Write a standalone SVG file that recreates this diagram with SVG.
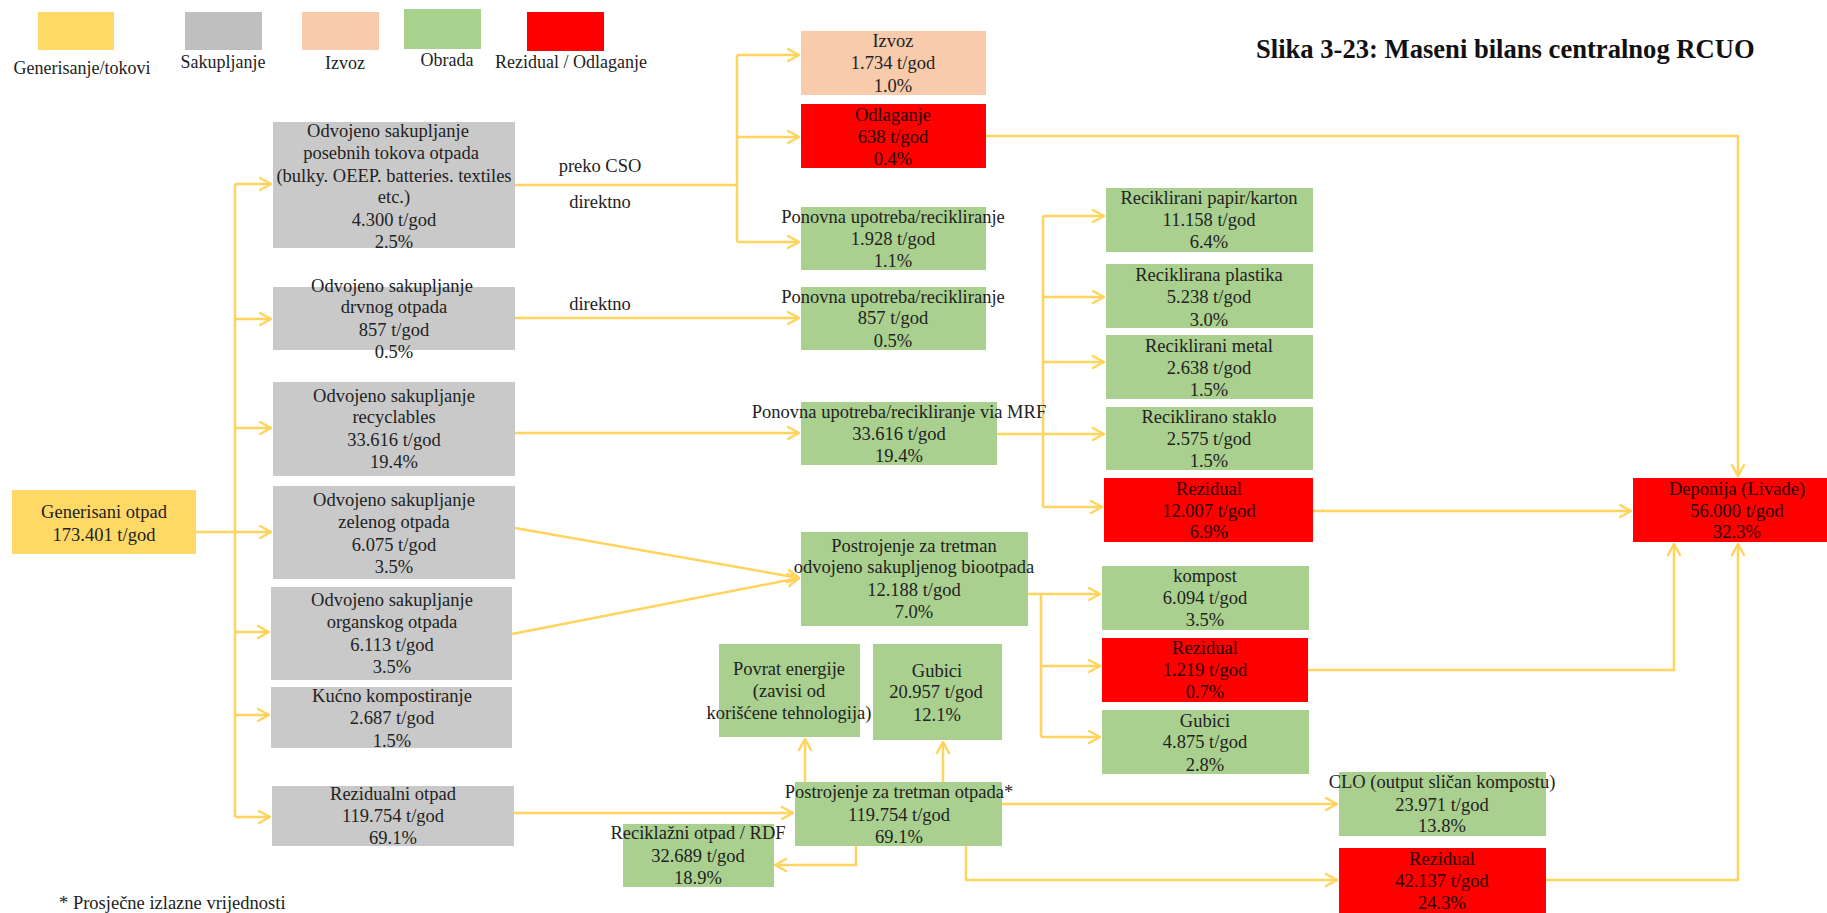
<svg xmlns="http://www.w3.org/2000/svg" width="1827" height="913" viewBox="0 0 1827 913">
  <style>
    .t { font-family: "Liberation Serif", "Times New Roman", serif; font-size: 18.5px; fill: #222; text-anchor: middle; }
    .tr { font-family: "Liberation Serif", "Times New Roman", serif; font-size: 18.5px; fill: #2a0000; text-anchor: middle; }
    .lg { font-family: "Liberation Serif", "Times New Roman", serif; font-size: 18px; fill: #222; text-anchor: middle; }
    .title { font-family: "Liberation Serif", "Times New Roman", serif; font-size: 26.6px; font-weight: bold; fill: #111; }
    .c { fill: none; stroke: #FFD45E; stroke-width: 2.5; }
    .a { marker-end: url(#arr); }
    .gen { fill: #FFD966; }
    .col { fill: #C9C9C9; }
    .exp { fill: #F8CBAD; }
    .trt { fill: #A9D08E; }
    .res { fill: #FF0000; }
  </style>
  <defs>
    <marker id="arr" viewBox="-13 -8 15 16" refX="0" refY="0" markerWidth="15" markerHeight="16" markerUnits="userSpaceOnUse" orient="auto">
      <path d="M-11,-6 L0,0 L-11,6" fill="none" stroke="#FFD45E" stroke-width="2.5" stroke-linejoin="round" stroke-linecap="round"/>
    </marker>
  </defs>
  <rect width="1827" height="913" fill="#FFFFFF"/>

  <!-- legend -->
  <g id="legend">
    <rect class="gen" x="38" y="12" width="76" height="38"/>
    <rect fill="#BFBFBF" x="185" y="12" width="77" height="38"/>
    <rect class="exp" x="302" y="12" width="77" height="38"/>
    <rect fill="#A9D18E" x="404" y="9" width="77" height="40"/>
    <rect class="res" x="527" y="12" width="77" height="39"/>
    <text class="lg" x="82" y="74">Generisanje/tokovi</text>
    <text class="lg" x="223" y="68">Sakupljanje</text>
    <text class="lg" x="345" y="69">Izvoz</text>
    <text class="lg" x="447" y="66">Obrada</text>
    <text class="lg" x="571" y="68">Rezidual  / Odlaganje</text>
  </g>

  <text class="title" x="1256" y="58">Slika 3-23: Maseni bilans centralnog RCUO</text>

  <!-- connectors -->
  <g id="connectors">
    <path class="c a" d="M196,532 H271"/>
    <path class="c" d="M235,184 V817"/>
    <path class="c a" d="M235,184 H271"/>
    <path class="c a" d="M235,319 H271"/>
    <path class="c a" d="M235,428 H271"/>
    <path class="c a" d="M235,632 H269"/>
    <path class="c a" d="M235,715 H269"/>
    <path class="c a" d="M235,817 H270"/>

    <path class="c" d="M515,185 H737"/>
    <path class="c" d="M737,55 V242"/>
    <path class="c a" d="M737,55 H799"/>
    <path class="c a" d="M737,137 H799"/>
    <path class="c a" d="M737,242 H799"/>
    <path class="c a" d="M515,318 H799"/>
    <path class="c a" d="M515,433 H799"/>
    <path class="c a" d="M515,528 L799,578"/>
    <path class="c a" d="M512,634 L799,578"/>

    <path class="c" d="M997,434 H1043"/>
    <path class="c" d="M1043,216 V507"/>
    <path class="c a" d="M1043,216 H1104"/>
    <path class="c a" d="M1043,297 H1104"/>
    <path class="c a" d="M1043,362 H1104"/>
    <path class="c a" d="M1043,434 H1104"/>
    <path class="c a" d="M1043,507 H1102"/>

    <path class="c" d="M1028,594 H1041 V737"/>
    <path class="c a" d="M1041,594 H1100"/>
    <path class="c a" d="M1041,666 H1100"/>
    <path class="c a" d="M1041,737 H1100"/>

    <path class="c a" d="M986,136 H1738 V476"/>
    <path class="c a" d="M1313,511 H1631"/>
    <path class="c a" d="M1308,670 H1674 V544"/>
    <path class="c a" d="M1546,880 H1738 V544"/>

    <path class="c a" d="M514,813 H793"/>
    <path class="c a" d="M805,782 V739"/>
    <path class="c a" d="M943,782 V742"/>
    <path class="c a" d="M856,846 V865 H775"/>
    <path class="c a" d="M1002,804 H1337"/>
    <path class="c a" d="M966,846 V880 H1337"/>
  </g>

  <g id="edge-labels">
    <text class="t" x="600" y="172">preko CSO</text>
    <text class="t" x="600" y="208">direktno</text>
    <text class="t" x="600" y="310">direktno</text>
  </g>

  <!-- source -->
  <g id="generisani">
    <rect class="gen" x="12" y="490" width="184" height="64"/>
    <text class="t" x="104" y="518">Generisani otpad</text>
    <text class="t" x="104" y="541">173.401 t/god</text>
  </g>

  <!-- collection -->
  <g id="posebni-tokovi">
    <rect class="col" x="273" y="122" width="242" height="126"/>
    <text class="t" x="388" y="137">Odvojeno sakupljanje</text>
    <text class="t" x="391" y="159">posebnih tokova otpada</text>
    <text class="t" x="394" y="182">(bulky. OEEP. batteries. textiles</text>
    <text class="t" x="394" y="203">etc.)</text>
    <text class="t" x="394" y="226">4.300 t/god</text>
    <text class="t" x="394" y="248">2.5%</text>
  </g>
  <g id="drvni">
    <rect class="col" x="273" y="287" width="242" height="63"/>
    <text class="t" x="392" y="292">Odvojeno sakupljanje</text>
    <text class="t" x="394" y="313">drvnog otpada</text>
    <text class="t" x="394" y="336">857 t/god</text>
    <text class="t" x="394" y="358">0.5%</text>
  </g>
  <g id="recyclables">
    <rect class="col" x="273" y="382" width="242" height="94"/>
    <text class="t" x="394" y="402">Odvojeno sakupljanje</text>
    <text class="t" x="394" y="423">recyclables</text>
    <text class="t" x="394" y="446">33.616 t/god</text>
    <text class="t" x="394" y="468">19.4%</text>
  </g>
  <g id="zeleni">
    <rect class="col" x="273" y="486" width="242" height="93"/>
    <text class="t" x="394" y="506">Odvojeno sakupljanje</text>
    <text class="t" x="394" y="528">zelenog otpada</text>
    <text class="t" x="394" y="551">6.075 t/god</text>
    <text class="t" x="394" y="573">3.5%</text>
  </g>
  <g id="organski">
    <rect class="col" x="271" y="587" width="241" height="93"/>
    <text class="t" x="392" y="606">Odvojeno sakupljanje</text>
    <text class="t" x="392" y="628">organskog otpada</text>
    <text class="t" x="392" y="651">6.113 t/god</text>
    <text class="t" x="392" y="673">3.5%</text>
  </g>
  <g id="kucno">
    <rect class="col" x="271" y="687" width="241" height="61"/>
    <text class="t" x="392" y="702">Kućno kompostiranje</text>
    <text class="t" x="392" y="724">2.687 t/god</text>
    <text class="t" x="392" y="747">1.5%</text>
  </g>
  <g id="rezidualni">
    <rect class="col" x="272" y="786" width="242" height="60"/>
    <text class="t" x="393" y="800">Rezidualni otpad</text>
    <text class="t" x="393" y="822">119.754 t/god</text>
    <text class="t" x="393" y="844">69.1%</text>
  </g>

  <!-- middle column -->
  <g id="izvoz">
    <rect class="exp" x="801" y="31" width="185" height="64"/>
    <text class="t" x="893" y="47">Izvoz</text>
    <text class="t" x="893" y="69">1.734 t/god</text>
    <text class="t" x="893" y="92">1.0%</text>
  </g>
  <g id="odlaganje">
    <rect class="res" x="801" y="104" width="185" height="64"/>
    <text class="tr" x="893" y="121">Odlaganje</text>
    <text class="tr" x="893" y="143">638 t/god</text>
    <text class="tr" x="893" y="165">0.4%</text>
  </g>
  <g id="ponovna-1">
    <rect class="trt" x="801" y="207" width="185" height="63"/>
    <text class="t" x="893" y="223">Ponovna upotreba/recikliranje</text>
    <text class="t" x="893" y="245">1.928 t/god</text>
    <text class="t" x="893" y="267">1.1%</text>
  </g>
  <g id="ponovna-2">
    <rect class="trt" x="801" y="287" width="185" height="63"/>
    <text class="t" x="893" y="303">Ponovna upotreba/recikliranje</text>
    <text class="t" x="893" y="324">857 t/god</text>
    <text class="t" x="893" y="347">0.5%</text>
  </g>
  <g id="mrf">
    <rect class="trt" x="801" y="402" width="196" height="63"/>
    <text class="t" x="899" y="418">Ponovna upotreba/recikliranje via MRF</text>
    <text class="t" x="899" y="440">33.616 t/god</text>
    <text class="t" x="899" y="462">19.4%</text>
  </g>
  <g id="biootpad">
    <rect class="trt" x="801" y="532" width="227" height="94"/>
    <text class="t" x="914" y="552">Postrojenje za tretman</text>
    <text class="t" x="914" y="573">odvojeno sakupljenog biootpada</text>
    <text class="t" x="914" y="596">12.188 t/god</text>
    <text class="t" x="914" y="618">7.0%</text>
  </g>
  <g id="povrat-energije">
    <rect class="trt" x="719" y="644" width="141" height="93"/>
    <text class="t" x="789" y="675">Povrat energije</text>
    <text class="t" x="789" y="697">(zavisi od</text>
    <text class="t" x="789" y="719">korišćene tehnologija)</text>
  </g>
  <g id="gubici-1">
    <rect class="trt" x="873" y="644" width="129" height="96"/>
    <text class="t" x="937" y="677">Gubici</text>
    <text class="t" x="936" y="698">20.957 t/god</text>
    <text class="t" x="937" y="721">12.1%</text>
  </g>
  <g id="postrojenje">
    <rect class="trt" x="795" y="782" width="207" height="64"/>
    <text class="t" x="899" y="798">Postrojenje za tretman otpada*</text>
    <text class="t" x="899" y="821">119.754 t/god</text>
    <text class="t" x="899" y="843">69.1%</text>
  </g>
  <g id="reciklazni">
    <rect class="trt" x="623" y="824" width="151" height="63"/>
    <text class="t" x="698" y="839">Reciklažni otpad / RDF</text>
    <text class="t" x="698" y="862">32.689 t/god</text>
    <text class="t" x="698" y="884">18.9%</text>
  </g>

  <!-- right column -->
  <g id="papir">
    <rect class="trt" x="1106" y="188" width="207" height="64"/>
    <text class="t" x="1209" y="204">Reciklirani papir/karton</text>
    <text class="t" x="1209" y="226">11.158 t/god</text>
    <text class="t" x="1209" y="248">6.4%</text>
  </g>
  <g id="plastika">
    <rect class="trt" x="1106" y="264" width="207" height="64"/>
    <text class="t" x="1209" y="281">Reciklirana plastika</text>
    <text class="t" x="1209" y="303">5.238 t/god</text>
    <text class="t" x="1209" y="326">3.0%</text>
  </g>
  <g id="metal">
    <rect class="trt" x="1106" y="335" width="207" height="64"/>
    <text class="t" x="1209" y="352">Reciklirani metal</text>
    <text class="t" x="1209" y="374">2.638 t/god</text>
    <text class="t" x="1209" y="396">1.5%</text>
  </g>
  <g id="staklo">
    <rect class="trt" x="1106" y="407" width="207" height="63"/>
    <text class="t" x="1209" y="423">Reciklirano staklo</text>
    <text class="t" x="1209" y="445">2.575 t/god</text>
    <text class="t" x="1209" y="467">1.5%</text>
  </g>
  <g id="rezidual-mrf">
    <rect class="res" x="1104" y="478" width="209" height="64"/>
    <text class="tr" x="1209" y="495">Rezidual</text>
    <text class="tr" x="1209" y="517">12.007 t/god</text>
    <text class="tr" x="1209" y="538">6.9%</text>
  </g>
  <g id="kompost">
    <rect class="trt" x="1102" y="566" width="207" height="64"/>
    <text class="t" x="1205" y="582">kompost</text>
    <text class="t" x="1205" y="604">6.094 t/god</text>
    <text class="t" x="1205" y="626">3.5%</text>
  </g>
  <g id="rezidual-bio">
    <rect class="res" x="1102" y="638" width="206" height="64"/>
    <text class="tr" x="1205" y="654">Rezidual</text>
    <text class="tr" x="1205" y="676">1.219 t/god</text>
    <text class="tr" x="1205" y="698">0.7%</text>
  </g>
  <g id="gubici-2">
    <rect class="trt" x="1102" y="710" width="207" height="64"/>
    <text class="t" x="1205" y="727">Gubici</text>
    <text class="t" x="1205" y="748">4.875 t/god</text>
    <text class="t" x="1205" y="771">2.8%</text>
  </g>
  <g id="clo">
    <rect class="trt" x="1339" y="772" width="207" height="64"/>
    <text class="t" x="1442" y="788">CLO (output sličan kompostu)</text>
    <text class="t" x="1442" y="811">23.971 t/god</text>
    <text class="t" x="1442" y="832">13.8%</text>
  </g>
  <g id="rezidual-mbt">
    <rect class="res" x="1339" y="848" width="207" height="70"/>
    <text class="tr" x="1442" y="865">Rezidual</text>
    <text class="tr" x="1442" y="887">42.137 t/god</text>
    <text class="tr" x="1442" y="909">24.3%</text>
  </g>
  <g id="deponija">
    <rect class="res" x="1633" y="478" width="194" height="64"/>
    <text class="tr" x="1737" y="495">Deponija (Livade)</text>
    <text class="tr" x="1737" y="517">56.000 t/god</text>
    <text class="tr" x="1737" y="538">32.3%</text>
  </g>

  <text class="t" x="59" y="909" style="text-anchor:start">* Prosječne izlazne vrijednosti</text>
</svg>
